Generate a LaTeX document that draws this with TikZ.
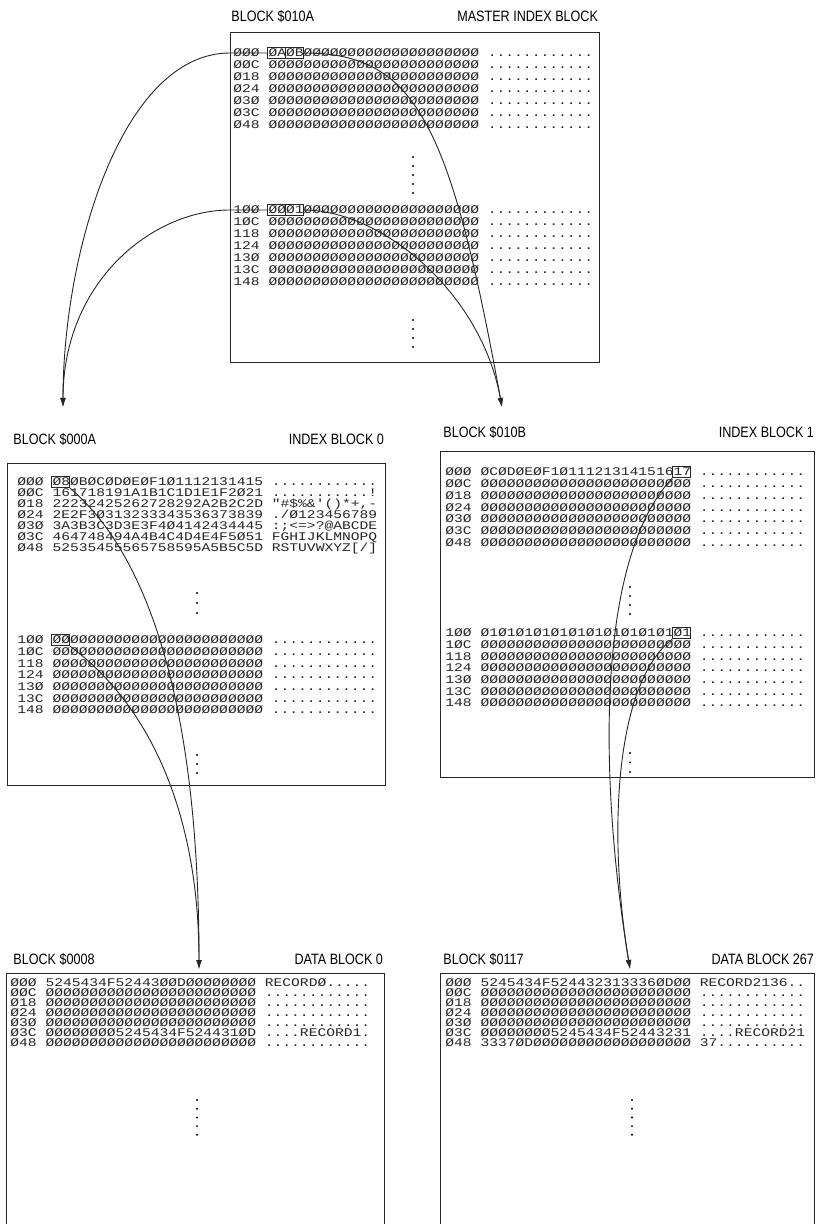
\documentclass[tikz,border=0pt]{standalone}
\usepackage{fontspec}
\setmainfont{Liberation Sans}
\setmonofont[FakeStretch=1.25]{Liberation Mono}
\newfontfamily\headfont[FakeStretch=0.84]{Liberation Sans}
\usetikzlibrary{positioning,arrows.meta,calc}

\begin{document}
\begin{tikzpicture}[
  x=0.5pt, y=0.5pt,
  font=\headfont\fontsize{7.5pt}{8.5pt}\selectfont,
  frame/.style={
    rectangle,
    draw=black!85,
    line width=0.7pt,
    inner sep=0pt,
    anchor=north west,
  },
  head/.style={inner sep=0pt, text depth=0pt},
  dump/.style={
    anchor=west,
    inner sep=0pt,
    text height=4pt,
    text depth=0.3pt,
    text=black!85,
    font=\ttfamily\fontsize{5.85pt}{6pt}\selectfont,
  },
  cell/.style={
    rectangle,
    draw=black!85,
    line width=0.45pt,
    inner sep=0pt,
    minimum width=8.9pt,
    minimum height=5.8pt,
  },
  link/.style={-{Latex[length=4.5pt,width=2.8pt]}, line width=0.45pt, draw=black!85},
]

  \fill[white] (0,0) rectangle (816,-1224);
  \useasboundingbox (0,0) rectangle (816,-1224);

  % --- Master index block ---
  \node[frame, minimum width=184.5pt, minimum height=165pt] (master) at (230,-32) {};
  \node[head, above right=5pt and 0.5pt of master.north west] (masterid) {BLOCK \$010A};
  \node[head, above left=5pt and 1pt of master.north east] (mastername) {MASTER INDEX BLOCK};

  \node[dump] (ma0) at (233,-53) {ØØØ ØAØBØØØØØØØØØØØØØØØØØØØØ ............};
  \foreach \off [count=\i] in {ØØC,Ø18,Ø24,Ø3Ø,Ø3C,Ø48}
    \node[dump] (ma\i) at (233,{-53-11.9*\i}) {\off\ ØØØØØØØØØØØØØØØØØØØØØØØØ ............};
  \node[dump] (mb0) at (233,-210) {1ØØ ØØØ1ØØØØØØØØØØØØØØØØØØØØ ............};
  \foreach \off [count=\i] in {1ØC,118,124,13Ø,13C,148}
    \node[dump] (mb\i) at (233,{-210-11.9*\i}) {\off\ ØØØØØØØØØØØØØØØØØØØØØØØØ ............};

  \foreach \k in {0,...,4} \fill (413,{-157-9*\k}) circle (1.1);
  \foreach \k in {0,...,3} \fill (413,{-320-9*\k}) circle (1.1);

  \node[cell] (cA) at ($(ma0.west)+(43.8,0)$) {};
  \node[cell] (cB) at ($(ma0.west)+(61.3,0)$) {};
  \node[cell] (cC) at ($(mb0.west)+(43.8,0)$) {};
  \node[cell] (cD) at ($(mb0.west)+(61.3,0)$) {};

  % --- Index block 0 ---
  \node[frame, minimum width=189pt, minimum height=161pt] (idx0) at (7,-463) {};
  \node[head, above right=9pt and 3pt of idx0.north west] (idx0id) {BLOCK \$000A};
  \node[head, above left=9pt and 1pt of idx0.north east] (idx0name) {INDEX BLOCK 0};

  \node[dump] (ia0) at (17,-482) {ØØØ Ø8ØBØCØDØEØF1Ø1112131415 ............};
  \node[dump] (ia1) at (17,-493) {ØØC 161718191A1B1C1D1E1F2Ø21 ...........!};
  \node[dump] (ia2) at (17,-504) {Ø18 22232425262728292A2B2C2D "\#\$\%\&'()*+,-};
  \node[dump] (ia3) at (17,-515) {Ø24 2E2F3Ø313233343536373839 ./Ø123456789};
  \node[dump] (ia4) at (17,-526) {Ø3Ø 3A3B3C3D3E3F4Ø4142434445 :;<=>?@ABCDE};
  \node[dump] (ia5) at (17,-537) {Ø3C 464748494A4B4C4D4E4F5Ø51 FGHIJKLMNOPQ};
  \node[dump] (ia6) at (17,-548) {Ø48 52535455565758595A5B5C5D RSTUVWXYZ[/]};
  \node[dump] (ib0) at (17,-640) {1ØØ ØØØØØØØØØØØØØØØØØØØØØØØØ ............};
  \foreach \off [count=\i] in {1ØC,118,124,13Ø,13C,148}
    \node[dump] (ib\i) at (17,{-640-11.7*\i}) {\off\ ØØØØØØØØØØØØØØØØØØØØØØØØ ............};

  \foreach \k in {0,...,2} \fill (197,{-593-10*\k}) circle (1.1);
  \foreach \k in {0,...,2} \fill (197,{-755-9*\k}) circle (1.1);

  \node[cell] (c08) at ($(ia0.west)+(43.8,0)$) {};
  \node[cell] (c00) at ($(ib0.west)+(43.8,0)$) {};

  % --- Index block 1 ---
  \node[frame, minimum width=187pt, minimum height=163pt] (idx1) at (440,-451) {};
  \node[head, above right=6.5pt and 1.5pt of idx1.north west] (idx1id) {BLOCK \$010B};
  \node[head, above left=6.5pt and 0.5pt of idx1.north east] (idx1name) {INDEX BLOCK 1};

  \node[dump] (ja0) at (445,-472) {ØØØ ØCØDØEØF1Ø11121314151617 ............};
  \foreach \off [count=\i] in {ØØC,Ø18,Ø24,Ø3Ø,Ø3C,Ø48}
    \node[dump] (ja\i) at (445,{-472-11.8*\i}) {\off\ ØØØØØØØØØØØØØØØØØØØØØØØØ ............};
  \node[dump] (jb0) at (445,-633) {1ØØ Ø1Ø1Ø1Ø1Ø1Ø1Ø1Ø1Ø1Ø1Ø1Ø1 ............};
  \foreach \off [count=\i] in {1ØC,118,124,13Ø,13C,148}
    \node[dump] (jb\i) at (445,{-633-11.7*\i}) {\off\ ØØØØØØØØØØØØØØØØØØØØØØØØ ............};

  \foreach \k in {0,...,3} \fill (630,{-587-9*\k}) circle (1.1);
  \foreach \k in {0,...,2} \fill (630,{-753-9.5*\k}) circle (1.1);

  \node[cell] (c17) at ($(ja0.west)+(236.5,0)$) {};
  \node[cell] (c01) at ($(jb0.west)+(236.5,0)$) {};

  % --- Data blocks ---
  \node[frame, minimum width=189pt, minimum height=140pt] (data0) at (6,-973) {};
  \node[head, above right=4pt and 3.5pt of data0.north west] (data0id) {BLOCK \$0008};
  \node[head, above left=4pt and 1pt of data0.north east] (data0name) {DATA BLOCK 0};

  \node[dump] (da0) at (10,-983) {ØØØ 5245434F52443ØØDØØØØØØØØ RECORDØ.....};
  \foreach \off [count=\i] in {ØØC,Ø18,Ø24,Ø3Ø}
    \node[dump] (da\i) at (10,{-983-10*\i}) {\off\ ØØØØØØØØØØØØØØØØØØØØØØØØ ............};
  \node[dump] (da5) at (10,-1033) {Ø3C ØØØØØØØØ5245434F524431ØD ....RECORD1.};
  \node[dump] (da6) at (10,-1043) {Ø48 ØØØØØØØØØØØØØØØØØØØØØØØØ ............};

  \node[frame, minimum width=187pt, minimum height=140pt] (data1) at (440,-973) {};
  \node[head, above right=4pt and 1.5pt of data1.north west] (data1id) {BLOCK \$0117};
  \node[head, above left=4pt and 0.5pt of data1.north east] (data1name) {DATA BLOCK 267};

  \node[dump] (db0) at (445,-983) {ØØØ 5245434F524432313336ØDØØ RECORD2136..};
  \foreach \off [count=\i] in {ØØC,Ø18,Ø24,Ø3Ø}
    \node[dump] (db\i) at (445,{-983-10*\i}) {\off\ ØØØØØØØØØØØØØØØØØØØØØØØØ ............};
  \node[dump] (db5) at (445,-1033) {Ø3C ØØØØØØØØ5245434F52443231 ....RECORD21};
  \node[dump] (db6) at (445,-1043) {Ø48 3337ØDØØØØØØØØØØØØØØØØØØ 37..........};

  \foreach \k in {0,...,4} {
    \fill (197,{-1100-8.7*\k}) circle (1.1);
    \fill (632,{-1100-8.7*\k}) circle (1.1);
  }

  % --- Pointers ---
  \coordinate (in0) at (63,-407);
  \coordinate (in1) at (502,-407);
  \coordinate (to0) at (199,-969);
  \coordinate (to1) at (630,-969);

  \draw[link] (cA.west) -- (cA.west -| master.west) .. controls +(-108,0) and +(0,155) .. (in0);
  \draw[link] (cC.west) -- (cC.west -| master.west) .. controls +(-78,0) and +(0,125) .. (in0);
  \draw[link] (cB.east) .. controls +(112,0) and +(-52,285) .. (in1);
  \draw[link] (cD.east) .. controls +(78,0) and +(-21,115) .. (in1);

  \draw[link] (c08.south east) .. controls +(72,-61) and +(0,280) .. (to0);
  \draw[link] (c00.south east) .. controls +(77,-57) and +(0,160) .. (to0);
  \draw[link] (c17.south west) .. controls +(-78,-83) and +(-30,183) .. (to1);
  \draw[link] (c01.south west) .. controls +(-58,-45) and +(-22,133) .. (to1);

\end{tikzpicture}
\end{document}
